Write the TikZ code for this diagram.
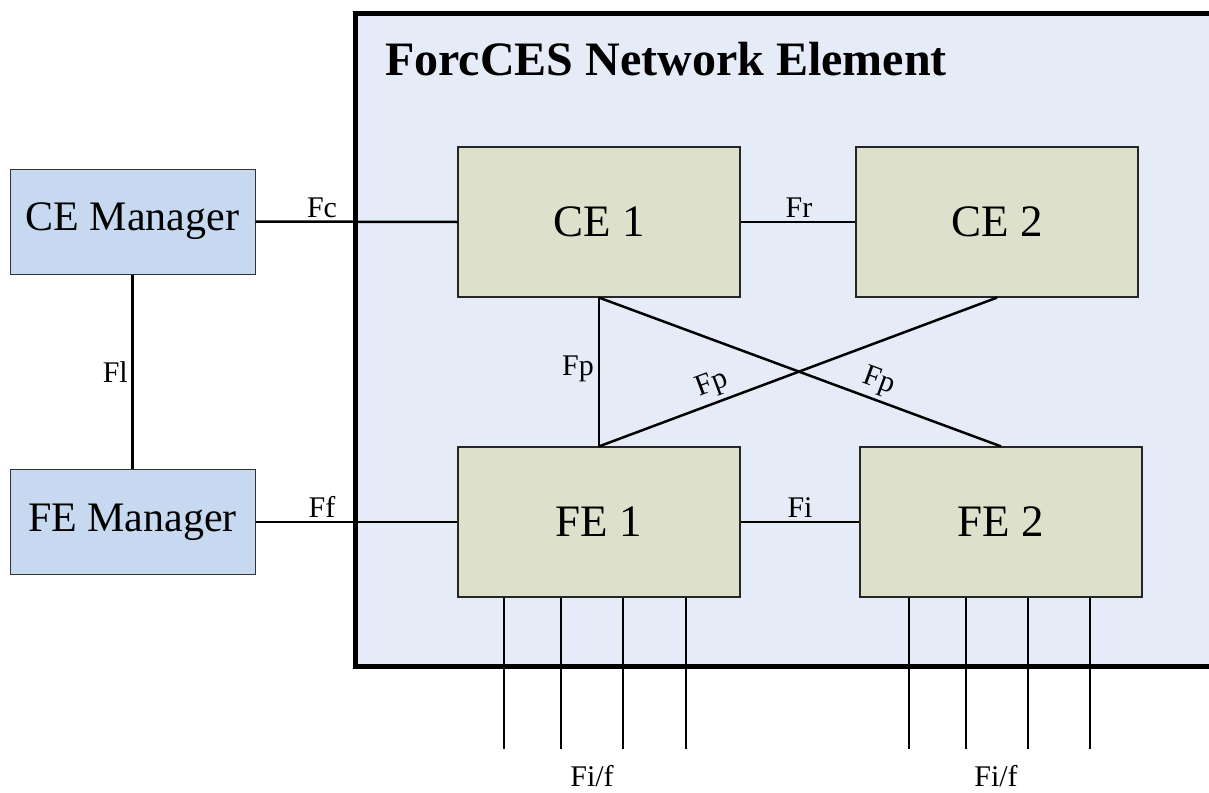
\documentclass[tikz,border=0pt]{standalone}
\usepackage{fontspec}
\setmainfont{Liberation Serif}
\begin{document}
\begin{tikzpicture}[x=1pt,y=-1pt,
  wire/.style={line width=2.5pt},
  mgrbox/.style={draw=black!80, line width=1pt, fill=mgrfill, minimum width=245pt, minimum height=105pt, inner sep=0pt, font=\fontsize{42}{46}\selectfont},
  elembox/.style={draw=black!85, line width=1.2pt, fill=elemfill, minimum width=282pt, minimum height=150pt, inner sep=0pt, font=\fontsize{45}{50}\selectfont},
  iflabel/.style={font=\fontsize{30}{32}\selectfont, inner sep=2pt}
]
\definecolor{nefill}{RGB}{230,236,247}
\definecolor{mgrfill}{RGB}{198,217,240}
\definecolor{elemfill}{RGB}{221,224,203}
\useasboundingbox (0,0) rectangle (1209,792);
\begin{scope}
\clip (0,0) rectangle (1209,792);
% network element frame
\draw[line width=5pt, fill=nefill] (355,14) rectangle (1212,666);
\end{scope}
\node[anchor=base west, inner sep=0pt, font=\fontsize{48}{50}\selectfont\bfseries] (title) at (385,75) {ForcCES Network Element};

% managers
\node[mgrbox] (cem) at (132.5,221.5) {CE Manager};
\node[mgrbox] (fem) at (132.5,522) {FE Manager};

% control and forwarding elements
\node[elembox] (ce1) at (599,222) {CE 1};
\node[elembox] (ce2) at (997,222) {CE 2};
\node[elembox] (fe1) at (599,522) {FE 1};
\node[elembox] (fe2) at (1001,522) {FE 2};

% reference points
\draw[wire] (cem.south) -- (fem.north);
\node[iflabel, anchor=base east] (lfl) at (130,382) {Fl};

\draw[wire] (cem.east) -- (ce1.west);
\node[iflabel, anchor=base] (lfc) at (322,217) {Fc};
\draw[wire] (fem.east) -- (fe1.west);
\node[iflabel, anchor=base] (lff) at (322,517) {Ff};

\draw[wire] (ce1.east) -- (ce2.west);
\node[iflabel, anchor=base] (lfr) at (799,217) {Fr};
\draw[wire] (fe1.east) -- (fe2.west);
\node[iflabel, anchor=base] (lfi) at (800,517) {Fi};

\draw[wire] (ce1.south) -- (fe1.north);
\node[iflabel, anchor=base east] (lfp1) at (596,375) {Fp};
\draw[wire] (fe1.north) -- (ce2.south) node[iflabel, pos=0.30, sloped, above, inner sep=4pt] (lfp2) {Fp};
\draw[wire] (ce1.south) -- (fe2.north) node[iflabel, pos=0.68, sloped, above, inner sep=4pt] (lfp3) {Fp};

% external interfaces
\foreach \i/\x in {1/504,2/561,3/623,4/686}{
  \coordinate (a\i) at (\x,749);
  \draw[wire] (fe1.south -| a\i) -- (a\i);
}
\foreach \i/\x in {1/909,2/966,3/1028,4/1090}{
  \coordinate (b\i) at (\x,749);
  \draw[wire] (fe2.south -| b\i) -- (b\i);
}
\node[iflabel, anchor=base] (lfif1) at (592,786) {Fi/f};
\node[iflabel, anchor=base] (lfif2) at (996,786) {Fi/f};
\end{tikzpicture}
\end{document}
